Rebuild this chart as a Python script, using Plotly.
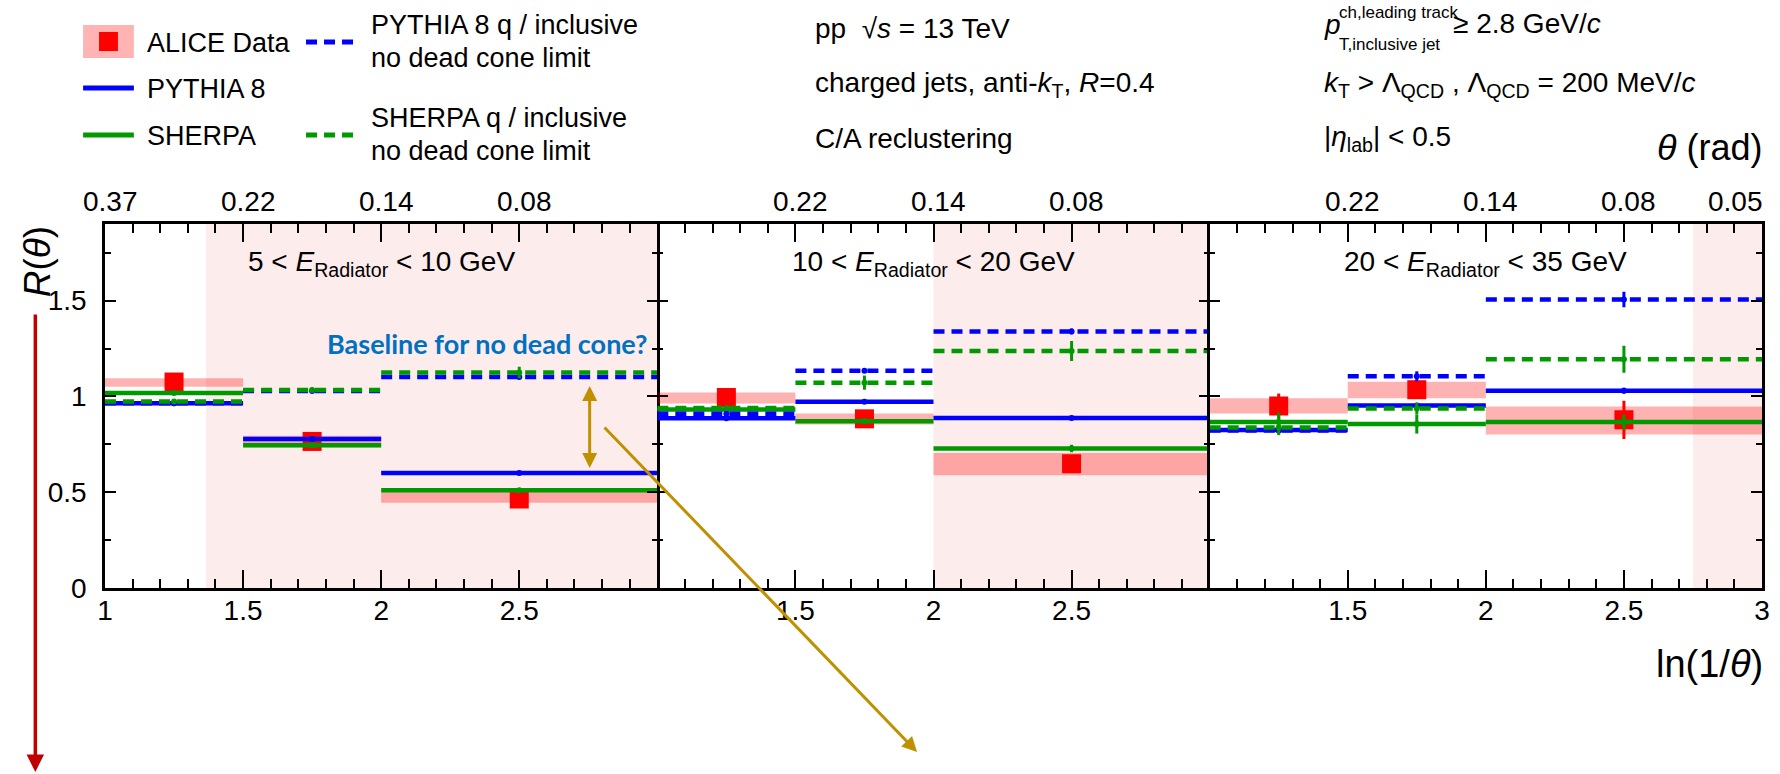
import plotly.graph_objects as go

# ---- binning in ln(1/theta), shared by the three radiator-energy intervals ----
edges = [1.0, 1.5, 2.0, 3.0]
centers = [1.25, 1.75, 2.5]

panel_titles = [
    "5 &lt; <i>E</i><sub>Radiator</sub> &lt; 10 GeV",
    "10 &lt; <i>E</i><sub>Radiator</sub> &lt; 20 GeV",
    "20 &lt; <i>E</i><sub>Radiator</sub> &lt; 35 GeV",
]

# ---- ALICE data: R(theta) per bin, statistical error, systematic band ----
alice_val = [[1.075, 0.765, 0.465], [0.995, 0.883, 0.648], [0.950, 1.035, 0.878]]
alice_stat = [[0.012, 0.012, 0.015], [0.015, 0.015, 0.02], [0.065, 0.025, 0.10]]
alice_sys_lo = [[1.050, 0.735, 0.445], [0.963, 0.853, 0.588], [0.911, 0.991, 0.801]]
alice_sys_hi = [[1.095, 0.795, 0.505], [1.020, 0.911, 0.705], [0.990, 1.077, 0.948]]

# ---- model predictions ----
pythia = [[0.965, 0.778, 0.600], [0.886, 0.972, 0.888], [0.825, 0.953, 1.030]]
pythia_err = [[0.004, 0.005, 0.006], [0.004, 0.006, 0.008], [0.006, 0.010, 0.015]]
sherpa = [[1.018, 0.745, 0.510], [0.932, 0.871, 0.728], [0.866, 0.856, 0.866]]
sherpa_err = [[0.005, 0.008, 0.010], [0.008, 0.012, 0.020], [0.050, 0.050, 0.040]]
pythia_nodc = [[0.964, 1.028, 1.102], [0.910, 1.134, 1.339], [0.822, 1.105, 1.506]]
pythia_nodc_err = [[0.005, 0.008, 0.010], [0.008, 0.010, 0.015], [0.010, 0.026, 0.040]]
sherpa_nodc = [[0.973, 1.034, 1.125], [0.940, 1.072, 1.237], [0.838, 0.937, 1.194]]
sherpa_nodc_err = [[0.010, 0.012, 0.030], [0.012, 0.037, 0.052], [0.040, 0.030, 0.070]]

# shaded ln(1/theta) region of each panel (starts here, runs to the upper edge)
shade_start = [1.366, 2.0, 2.75]

# tick labels: bottom ln(1/theta), top theta (rad)
bottom_tickvals = [[1, 1.5, 2, 2.5], [1.5, 2, 2.5], [1.5, 2, 2.5, 3]]
bottom_ticktext = [["1", "1.5", "2", "2.5"], ["1.5", "2", "2.5"], ["1.5", "2", "2.5", "3"]]
top_tickvals = [[1, 1.5, 2, 2.5], [1.5, 2, 2.5], [1.5, 2, 2.5, 3]]
top_ticktext = [["0.37", "0.22", "0.14", "0.08"], ["0.22", "0.14", "0.08"],
                ["0.22", "0.14", "0.08", "0.05"]]

BLUE = "#0000ff"
GREEN = "#009a00"
RED = "#ff0000"
BAND = "rgba(255,0,0,0.30)"
SHADE = "#fdecec"
GOLD = "#bf9000"
FONT = "Liberation Sans, Arial, Helvetica, sans-serif"

W, H = 1780, 774
L, R, T, B = 105, 10, 224, 186
PW, PH = W - L - R, H - T - B


def px(x):
    return (x - L) / PW


def py(y):
    return (H - B - y) / PH


def steps(vals):
    xs, ys = [], []
    for i, v in enumerate(vals):
        xs += [edges[i], edges[i + 1], None]
        ys += [v, v, None]
    return xs, ys


fig = go.Figure()
xa = ["x", "x2", "x3"]
ya = ["y", "y2", "y3"]
widths = [b - a for a, b in zip(edges[:-1], edges[1:])]

for p in range(3):
    lo, hi = alice_sys_lo[p], alice_sys_hi[p]
    fig.add_trace(go.Bar(
        x=centers, y=[h - l for h, l in zip(hi, lo)], base=lo, width=widths,
        marker=dict(color=BAND, line=dict(width=0)),
        xaxis=xa[p], yaxis=ya[p], hoverinfo="skip"))
    fig.add_trace(go.Scatter(
        x=centers, y=alice_val[p], mode="markers",
        marker=dict(symbol="square", size=19, color=RED),
        error_y=dict(type="data", array=alice_stat[p], color=RED, thickness=3, width=0),
        xaxis=xa[p], yaxis=ya[p]))
    models = [
        (pythia[p], pythia_err[p], BLUE, "solid"),
        (sherpa[p], sherpa_err[p], GREEN, "solid"),
        (pythia_nodc[p], pythia_nodc_err[p], BLUE, "11px,7px"),
        (sherpa_nodc[p], sherpa_nodc_err[p], GREEN, "11px,7px"),
    ]
    for vals, errs, col, dash in models:
        sx, sy = steps(vals)
        fig.add_trace(go.Scatter(
            x=sx, y=sy, mode="lines", line=dict(color=col, width=4.5, dash=dash),
            xaxis=xa[p], yaxis=ya[p], hoverinfo="skip"))
        fig.add_trace(go.Scatter(
            x=centers, y=vals, mode="markers", marker=dict(size=0, color=col),
            error_y=dict(type="data", array=errs, color=col, thickness=3, width=0),
            xaxis=xa[p], yaxis=ya[p], hoverinfo="skip"))

shapes = []
for p in range(3):
    shapes.append(dict(type="rect", xref=xa[p], yref="paper", x0=shade_start[p], x1=3,
                       y0=0, y1=1, fillcolor=SHADE, line=dict(width=0), layer="below"))

# legend keys
shapes += [
    dict(type="rect", xref="paper", yref="paper", x0=px(83), x1=px(134), y0=py(58), y1=py(25),
         fillcolor="#ffb3b3", line=dict(width=0)),
    dict(type="rect", xref="paper", yref="paper", x0=px(99), x1=px(118), y0=py(51), y1=py(32),
         fillcolor=RED, line=dict(width=0)),
    dict(type="line", xref="paper", yref="paper", x0=px(83), x1=px(134), y0=py(88), y1=py(88),
         line=dict(color=BLUE, width=5)),
    dict(type="line", xref="paper", yref="paper", x0=px(83), x1=px(134), y0=py(135), y1=py(135),
         line=dict(color=GREEN, width=5)),
    dict(type="line", xref="paper", yref="paper", x0=px(307), x1=px(355), y0=py(42), y1=py(42),
         line=dict(color=BLUE, width=5, dash="11px,7px")),
    dict(type="line", xref="paper", yref="paper", x0=px(307), x1=px(355), y0=py(135), y1=py(135),
         line=dict(color=GREEN, width=5, dash="11px,7px")),
]

ann = []


def text(x, y, s, size, xanchor="left", **kw):
    ann.append(dict(xref="paper", yref="paper", x=px(x), y=py(y), text=s, showarrow=False,
                    xanchor=xanchor, yanchor="middle", font=dict(size=size, family=FONT, color="black"),
                    **kw))


# legend texts
text(145, 43, "ALICE Data", 27)
text(145, 89, "PYTHIA 8", 27)
text(145, 136, "SHERPA", 27)
text(370, 25, "PYTHIA 8 q / inclusive", 27)
text(370, 58, "no dead cone limit", 27)
text(370, 118, "SHERPA q / inclusive", 27)
text(370, 151, "no dead cone limit", 27)

# event-selection texts
text(816, 29, "pp  √<i>s</i> = 13 TeV", 28)
text(816, 84, "charged jets, anti-<i>k</i><sub>T</sub>, <i>R</i>=0.4", 28)
text(816, 139, "C/A reclustering", 28)
text(1328, 25, "<i>p</i>", 28)
text(1343, 12, "ch,leading track", 17)
text(1343, 44, "T,inclusive jet", 17)
text(1457, 24, "≥ 2.8 GeV/<i>c</i>", 28)
text(1328, 84, "<i>k</i><sub>T</sub> &gt; Λ<sub>QCD</sub> , Λ<sub>QCD</sub> = 200 MeV/<i>c</i>", 28)
text(1328, 139, "|<i>η</i><sub>lab</sub>| &lt; 0.5", 28)

# axis titles
text(1773, 147, "<i>θ</i> (rad)", 36, xanchor="right")
text(1773, 664, "ln(1/<i>θ</i>)", 38, xanchor="right")
text(37, 262, "<i>R</i>(<i>θ</i>)", 37, xanchor="center", textangle=-90)

# panel titles and top (theta) tick labels
for p in range(3):
    ann.append(dict(xref=xa[p], yref="paper", x=2, y=py(263), text=panel_titles[p],
                    showarrow=False, xanchor="center", yanchor="middle",
                    font=dict(size=28, family=FONT, color="black")))
    for v, t in zip(top_tickvals[p], top_ticktext[p]):
        edge = v >= 3
        ann.append(dict(xref=xa[p], yref="paper", x=v, y=py(201), text=t, showarrow=False,
                        xanchor="right" if edge else "center", yanchor="middle",
                        xshift=3 if edge else 5,
                        font=dict(size=28, family=FONT, color="black")))

# highlighted remark and arrows
ann.append(dict(xref="paper", yref="paper", x=px(326), y=py(343), text="<b>Baseline for no dead cone?</b>",
                showarrow=False, xanchor="left", yanchor="middle",
                font=dict(size=27, family="Lato, Open Sans, sans-serif", color="#0070c0")))
ann.append(dict(xref="x", yref="y", x=2.755, y=0.626, axref="x", ayref="y", ax=2.755, ay=1.062,
                text="", showarrow=True, arrowside="end+start", arrowhead=2, arrowsize=1,
                arrowwidth=3, arrowcolor=GOLD, standoff=0, startstandoff=0))
ann.append(dict(xref="paper", yref="paper", x=px(921), y=py(752), ax=607 - 921, ay=426 - 752,
                text="", showarrow=True, arrowhead=2, arrowsize=1, arrowwidth=3, arrowcolor=GOLD))
ann.append(dict(xref="paper", yref="paper", x=px(35), y=py(772), ax=0, ay=313 - 772,
                text="", showarrow=True, arrowhead=2, arrowsize=1, arrowwidth=3.5, arrowcolor="#c00000"))

axis_common = dict(linewidth=2.5, linecolor="black", mirror="ticks", showgrid=False,
                   zeroline=False, tickcolor="black", tickwidth=2, ticks="inside")

layout = dict(
    width=W, height=H, margin=dict(l=L, r=R, t=T, b=B, pad=0),
    plot_bgcolor="rgba(0,0,0,0)", paper_bgcolor="white", showlegend=False, barmode="overlay",
    font=dict(family=FONT, color="black"), shapes=shapes, annotations=ann,
)
for p in range(3):
    key = "xaxis" if p == 0 else f"xaxis{p + 1}"
    layout[key] = dict(
        axis_common, showline=True, domain=[p / 3, (p + 1) / 3], range=[1, 3], anchor=ya[p],
        tickmode="array", tickvals=bottom_tickvals[p], ticktext=bottom_ticktext[p],
        ticklen=18, tickfont=dict(size=28), ticklabelstandoff=-4,
        minor=dict(ticks="inside", ticklen=9, tickwidth=2, tickcolor="black",
                   tickmode="linear", tick0=1, dtick=0.1),
    )
    ykey = "yaxis" if p == 0 else f"yaxis{p + 1}"
    # the middle panel borrows its side borders from its neighbours
    layout[ykey] = dict(
        axis_common, showline=(p != 1), domain=[0, 1], range=[0, 1.9], anchor=xa[p],
        tickmode="array", tickvals=[0, 0.5, 1, 1.5], ticktext=["0", "0.5", "1", "1.5"],
        ticklen=11, tickfont=dict(size=28), showticklabels=(p == 0), ticklabelstandoff=10,
        minor=dict(ticks="inside", ticklen=6, tickwidth=2, tickcolor="black",
                   tickmode="linear", tick0=0, dtick=0.25),
    )
    if p > 0:
        layout[ykey]["matches"] = "y"

fig.update_layout(**layout)
fig.write_html("out.html")
